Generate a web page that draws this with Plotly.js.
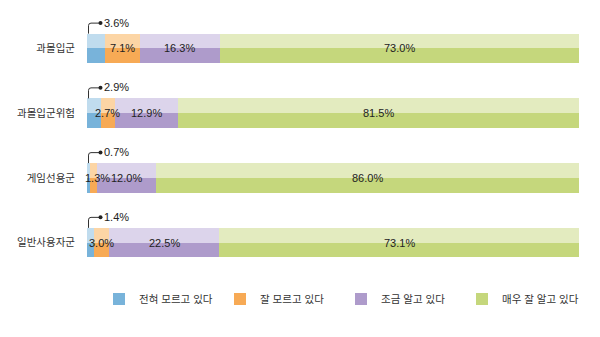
<!DOCTYPE html>
<html><head><meta charset="utf-8">
<script src="https://cdn.plot.ly/plotly-3.0.1.min.js"></script>
<style>html,body{margin:0;padding:0;background:#fff}#chart{width:600px;height:337px}</style>
</head><body><div id="chart"></div>
<script>
const categories = ['과몰입군','과몰입군위험','게임선용군','일반사용자군'];
const seriesNames = ['전혀 모르고 있다','잘 모르고 있다','조금 알고 있다','매우 잘 알고 있다'];
const notAtAll = [3.6, 2.9, 0.7, 1.4];
const notWell = [7.1, 2.7, 1.3, 3.0];
const somewhat = [16.3, 12.9, 12.0, 22.5];
const veryWell = [73.0, 81.5, 86.0, 73.1];
const series = [notAtAll, notWell, somewhat, veryWell];

const darkColors = ['#78b3da', '#f7aa55', '#ae9bcb', '#c5d77c'];
const lightColors = ['#c0dcee', '#fcd5a5', '#dcd4eb', '#e3ebbf'];

const pos = categories.map((c, i) => categories.length - 1 - i);
const half = 0.228;
const FONT = 'Liberation Sans, Arial, Noto Sans CJK KR, sans-serif';

const traces = [];
series.forEach((vals, s) => {
  traces.push({
    type: 'bar', orientation: 'h', x: vals, y: pos.map(p => p + half / 2),
    width: half, marker: {color: lightColors[s], line: {width: 0}},
    name: seriesNames[s], showlegend: false, hoverinfo: 'skip', legendgroup: 'g' + s
  });
  traces.push({
    type: 'bar', orientation: 'h', x: vals, y: pos.map(p => p - half / 2),
    width: half, marker: {color: darkColors[s], line: {width: 0}},
    name: seriesNames[s], showlegend: true, legendgroup: 'g' + s
  });
});

const annotations = [];
const shapes = [];
categories.forEach((c, i) => {
  const p = pos[i];
  let cum = series[0][i];
  for (let s = 1; s < series.length; s++) {
    const v = series[s][i];
    annotations.push({
      x: cum + v / 2, y: p, xref: 'x', yref: 'y', text: v.toFixed(1) + '%',
      showarrow: false, font: {family: FONT, size: 11, color: '#222'},
      xshift: (s === 1 && v < 2) ? 4 : 0
    });
    cum += v;
  }
  // leader for first (small) segment, anchored at bar's top-left corner, in pixels
  const top = p + half;
  shapes.push({
    type: 'path', xref: 'x', yref: 'y', xsizemode: 'pixel', ysizemode: 'pixel',
    xanchor: 0, yanchor: top,
    path: 'M 1.5,0 L 1.5,8 Q 1.5,10.5 4,10.5 L 13.5,10.5',
    line: {color: '#333', width: 1}
  });
  shapes.push({
    type: 'circle', xref: 'x', yref: 'y', xsizemode: 'pixel', ysizemode: 'pixel',
    xanchor: 0, yanchor: top, x0: 11.5, x1: 15.5, y0: 8.5, y1: 12.5,
    fillcolor: '#222', line: {width: 0}
  });
  annotations.push({
    x: 0, y: top, xref: 'x', yref: 'y', text: series[0][i].toFixed(1) + '%',
    showarrow: false, xanchor: 'left', yanchor: 'middle', xshift: 15, yshift: 11,
    font: {family: FONT, size: 11, color: '#222'}
  });
});

const layout = {
  width: 600, height: 337,
  margin: {l: 87, r: 21, t: 16, b: 62},
  barmode: 'stack', bargap: 0,
  paper_bgcolor: '#fff', plot_bgcolor: '#fff',
  font: {family: FONT, size: 11, color: '#333'},
  xaxis: {range: [0, 100], showgrid: false, zeroline: false, showticklabels: false, ticks: '', fixedrange: true},
  yaxis: {range: [-0.5, 3.5], tickvals: pos, ticktext: categories, showgrid: false, zeroline: false,
          ticks: '', ticklabelstandoff: 11, tickfont: {family: FONT, size: 10.5, color: '#333'}},
  showlegend: true,
  legend: {orientation: 'h', xref: 'container', yref: 'container', x: 0.165, xanchor: 'left',
           y: 0.113, yanchor: 'middle',
           entrywidth: 76, entrywidthmode: 'pixels', traceorder: 'normal',
           font: {family: FONT, size: 10.5, color: '#333'}, itemclick: false, itemdoubleclick: false},
  annotations: annotations,
  shapes: shapes
};

Plotly.newPlot('chart', traces, layout, {displayModeBar: false, staticPlot: true});
</script>
</body></html>
